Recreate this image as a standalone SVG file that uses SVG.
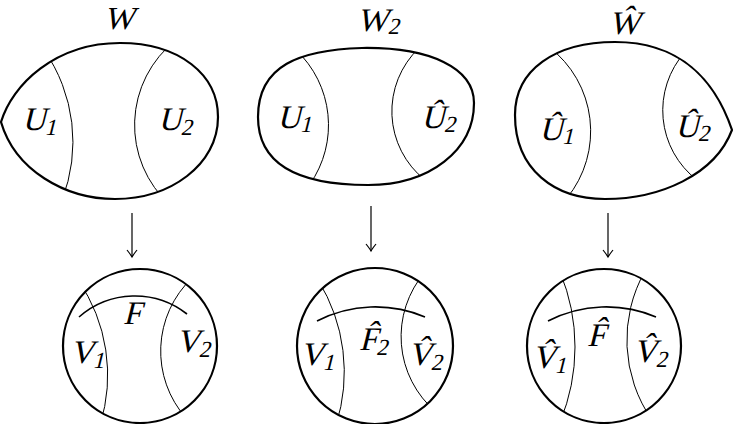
<svg xmlns="http://www.w3.org/2000/svg" width="733" height="424" viewBox="0 0 733 424">
<style>
.outer{fill:none;stroke:#000;stroke-width:2.2}
.inner{fill:none;stroke:#000;stroke-width:1}
.farc{fill:none;stroke:#000;stroke-width:1.6}
text{font-family:'Liberation Serif','Times New Roman',serif;font-style:normal;font-size:33px;fill:#000}
.sub{font-size:23px}
.arr{fill:none;stroke:#000;stroke-width:1.2}
</style>
<defs>
<marker id="ah" markerUnits="userSpaceOnUse" markerWidth="14" markerHeight="14" viewBox="-8 -7 10 14" refX="0" refY="0" orient="auto">
<path d="M -7,-5 Q -2,-1 0,0 Q -2,1 -7,5" fill="none" stroke="#000" stroke-width="1.2"/>
</marker>
<clipPath id="c1"><path d="M 1,122 C 12,85 55,43 120,43 C 180,43 218,75 218,117 C 218,165 170,199 115,199 C 65,199 15,170 1,122 Z"/></clipPath>
<clipPath id="c2"><path d="M 258,117 C 258,65 300,50 362,48 C 430,47 474,68 474,103 C 474,150 430,185 368,185 C 300,185 258,165 258,117 Z"/></clipPath>
<clipPath id="c3"><path d="M 732,130 C 715,80 680,42 615,42 C 555,42 515,70 515,115 C 515,170 555,199 605,199 C 660,199 715,175 732,130 Z"/></clipPath>
<clipPath id="k1"><circle cx="140" cy="346" r="77"/></clipPath>
<clipPath id="k2"><circle cx="375" cy="346" r="78"/></clipPath>
<clipPath id="k3"><circle cx="604" cy="346" r="77"/></clipPath>
</defs>

<g id="W">
<path class="outer" d="M 1,122 C 12,85 55,43 120,43 C 180,43 218,75 218,117 C 218,165 170,199 115,199 C 65,199 15,170 1,122 Z"/>
<g clip-path="url(#c1)">
<path class="inner" d="M 44,50 A 160 160 0 0 1 62,200"/>
<path class="inner" d="M 176,40 A 108 108 0 0 0 170,205"/>
</g>
<text transform="translate(104,29) skewX(-14)" style="font-size:32px">W</text>
<text transform="translate(22,130) skewX(-14)">U<tspan class="sub" dy="5">1</tspan></text>
<text transform="translate(158,130) skewX(-14)">U<tspan class="sub" dy="5">2</tspan></text>
</g>

<g id="W2">
<path class="outer" d="M 258,117 C 258,65 300,50 362,48 C 430,47 474,68 474,103 C 474,150 430,185 368,185 C 300,185 258,165 258,117 Z"/>
<g clip-path="url(#c2)">
<path class="inner" d="M 296,50 A 103 103 0 0 1 310,184"/>
<path class="inner" d="M 419,48 A 87.6 87.6 0 0 0 425,180"/>
</g>
<text transform="translate(357,31) skewX(-14)">W<tspan class="sub" dy="3">2</tspan></text>
<text transform="translate(277,128) skewX(-14)">U<tspan class="sub" dy="4">1</tspan></text>
<text transform="translate(421,128) skewX(-14)">&#xDB;<tspan class="sub" dy="4">2</tspan></text>
</g>

<g id="What">
<path class="outer" d="M 732,130 C 715,80 680,42 615,42 C 555,42 515,70 515,115 C 515,170 555,199 605,199 C 660,199 715,175 732,130 Z"/>
<g clip-path="url(#c3)">
<path class="inner" d="M 549,47 A 106 106 0 0 1 567,198"/>
<path class="inner" d="M 685,52 A 87.8 87.8 0 0 0 697,180"/>
</g>
<text transform="translate(609,34) skewX(-14)">&#x174;</text>
<text transform="translate(539,140) skewX(-14)">&#xDB;<tspan class="sub" dy="4">1</tspan></text>
<text transform="translate(675,137) skewX(-14)">&#xDB;<tspan class="sub" dy="4">2</tspan></text>
</g>

<g id="V">
<circle class="outer" cx="140" cy="346" r="77"/>
<g clip-path="url(#k1)">
<path class="inner" d="M 78,280 A 167 167 0 0 1 100,425"/>
<path class="inner" d="M 192,278 A 101 101 0 0 0 186,418"/>
</g>
<path class="farc" d="M 79,317 A 84.5 84.5 0 0 1 187,314"/>
<text transform="translate(123,324) skewX(-14)">F</text>
<text transform="translate(70,363) skewX(-14)">V<tspan class="sub" dy="5">1</tspan></text>
<text transform="translate(176,352) skewX(-14)">V<tspan class="sub" dy="5">2</tspan></text>
</g>

<g id="V2">
<circle class="outer" cx="375" cy="346" r="78"/>
<g clip-path="url(#k2)">
<path class="inner" d="M 318,280 A 174 174 0 0 1 336,425"/>
<path class="inner" d="M 425,272 A 99 99 0 0 0 436,412"/>
</g>
<path class="farc" d="M 317,321 A 127.5 127.5 0 0 1 425,317"/>
<text transform="translate(359,350) skewX(-14)">F&#x302;<tspan class="sub" dy="5">2</tspan></text>
<text transform="translate(300,365) skewX(-14)">V<tspan class="sub" dy="5">1</tspan></text>
<text transform="translate(408,365) skewX(-14)">V&#x302;<tspan class="sub" dy="5">2</tspan></text>
</g>

<g id="Vhat">
<circle class="outer" cx="604" cy="346" r="77"/>
<g clip-path="url(#k3)">
<path class="inner" d="M 560,272 A 195 195 0 0 1 560,422"/>
<path class="inner" d="M 645,271 A 140 140 0 0 0 652,420"/>
</g>
<path class="farc" d="M 548,321 A 127.5 127.5 0 0 1 656,317"/>
<text transform="translate(587,346) skewX(-14)">F&#x302;</text>
<text transform="translate(532,368) skewX(-14)">V&#x302;<tspan class="sub" dy="5">1</tspan></text>
<text transform="translate(633,362) skewX(-14)">V&#x302;<tspan class="sub" dy="5">2</tspan></text>
</g>

<g id="connectors">
<line class="arr" x1="132" y1="213" x2="132" y2="257" marker-end="url(#ah)"/>
<line class="arr" x1="371" y1="206" x2="371" y2="251" marker-end="url(#ah)"/>
<line class="arr" x1="608" y1="213" x2="608" y2="257" marker-end="url(#ah)"/>
</g>
</svg>
